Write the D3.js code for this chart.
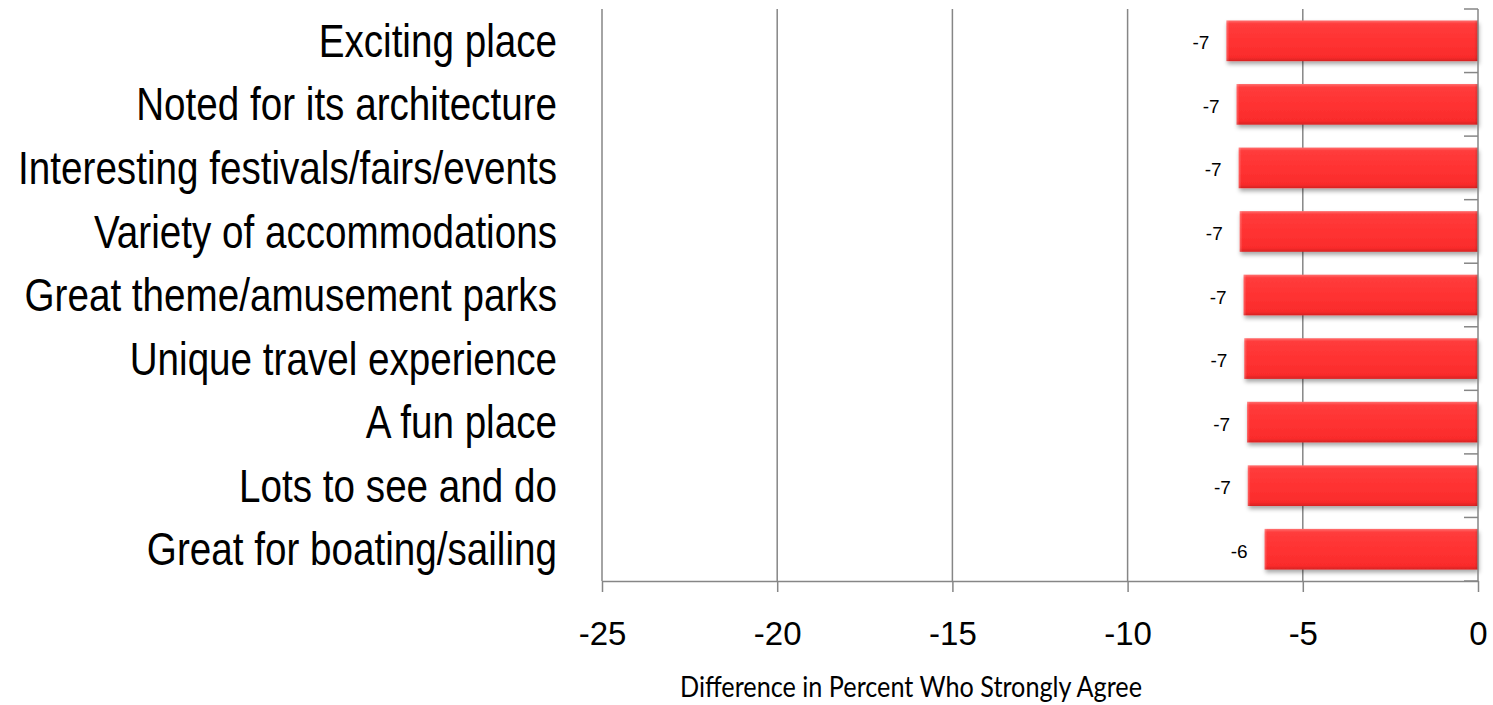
<!DOCTYPE html>
<html>
<head>
<meta charset="utf-8">
<script src="https://cdn.jsdelivr.net/npm/d3@7"></script>
<style>
  body { margin: 0; background: #fff; }
  svg { display: block; }
  .cat { font-family: "Liberation Sans", Arial, sans-serif; font-size: 46px; fill: #000; }
  .tick-lbl { font-family: "Liberation Sans", Arial, sans-serif; font-size: 33px; fill: #000; }
  .val { font-family: "Liberation Sans", Arial, sans-serif; font-size: 19px; fill: #000; }
  .xtitle { font-family: Lato, "Open Sans", sans-serif; font-size: 29px; fill: #000; }
</style>
</head>
<body>
<svg id="chart" width="1493" height="705"></svg>
<script>
// ======== Data ========
const categories = [
    'Exciting place',
    'Noted for its architecture',
    'Interesting festivals/fairs/events',
    'Variety of accommodations',
    'Great theme/amusement parks',
    'Unique travel experience',
    'A fun place',
    'Lots to see and do',
    'Great for boating/sailing'
];
const values = [-7.18, -6.89, -6.83, -6.80, -6.69, -6.67, -6.59, -6.57, -6.09];
const valueLabels = ['-7', '-7', '-7', '-7', '-7', '-7', '-7', '-7', '-6'];
const xTicks = [-25, -20, -15, -10, -5, 0];
const xTitle = 'Difference in Percent Who Strongly Agree';

const svg = d3.select('#chart');
const axisColor = '#868686';

let x = d3.scaleLinear().domain([-25, 0]).range([602, 1478]);
let y = d3.scaleBand().domain(categories).range([9, 581])
    .paddingInner(0.36).paddingOuter(0.18);

// ======== Defs: gradient + shadow ========
const defs = svg.append('defs');
const grad = defs.append('linearGradient')
    .attr('id', 'barGrad').attr('x1', 0).attr('y1', 0).attr('x2', 0).attr('y2', 1);
grad.append('stop').attr('offset', '0').attr('stop-color', '#ff7070');
grad.append('stop').attr('offset', '0.08').attr('stop-color', '#ff3c3c');
grad.append('stop').attr('offset', '0.5').attr('stop-color', '#ff3232');
grad.append('stop').attr('offset', '0.9').attr('stop-color', '#fa2c2c');
grad.append('stop').attr('offset', '1').attr('stop-color', '#d82222');

const edge = defs.append('linearGradient')
    .attr('id', 'edgeGrad').attr('x1', 0).attr('y1', 0).attr('x2', 1).attr('y2', 0);
edge.append('stop').attr('offset', '0').attr('stop-color', '#fff').attr('stop-opacity', 0.25);
edge.append('stop').attr('offset', '0.012').attr('stop-color', '#fff').attr('stop-opacity', 0);
edge.append('stop').attr('offset', '0.985').attr('stop-color', '#000').attr('stop-opacity', 0);
edge.append('stop').attr('offset', '1').attr('stop-color', '#000').attr('stop-opacity', 0.15);

const shadow = defs.append('filter').attr('id', 'shadow')
    .attr('x', '-5%').attr('y', '-20%').attr('width', '110%').attr('height', '160%');
shadow.append('feDropShadow').attr('dx', 1).attr('dy', 3).attr('stdDeviation', 2.2)
    .attr('flood-color', '#000').attr('flood-opacity', 0.35);

// ======== Gridlines ========
svg.append('g').selectAll('line')
    .data(xTicks.filter(d => d !== 0))
    .enter().append('line')
    .attr('x1', d => x(d)).attr('x2', d => x(d))
    .attr('y1', y.range()[0]).attr('y2', y.range()[1])
    .attr('stroke', axisColor).attr('stroke-width', 1.5);

// ======== Bars ========
const bars = svg.append('g').selectAll('g')
    .data(categories)
    .enter().append('g');

bars.append('rect')
    .attr('x', (d, i) => x(values[i]))
    .attr('y', d => y(d))
    .attr('width', (d, i) => x(0) - x(values[i]))
    .attr('height', y.bandwidth())
    .attr('fill', 'url(#barGrad)')
    .attr('filter', 'url(#shadow)');

bars.append('rect')
    .attr('x', (d, i) => x(values[i]))
    .attr('y', d => y(d))
    .attr('width', (d, i) => x(0) - x(values[i]))
    .attr('height', y.bandwidth())
    .attr('fill', 'url(#edgeGrad)');

bars.append('text')
    .attr('class', 'val')
    .attr('x', (d, i) => x(values[i]) - 17)
    .attr('y', d => y(d) + y.bandwidth() / 2)
    .attr('dy', '0.45em')
    .attr('text-anchor', 'end')
    .text((d, i) => valueLabels[i]);

// ======== X axis ========
const xAxis = svg.append('g')
    .attr('transform', 'translate(0,' + y.range()[1] + ')')
    .call(d3.axisBottom(x).tickValues(xTicks).tickSize(11).tickSizeOuter(0).tickPadding(30)
        .tickFormat(d3.format('d')));
xAxis.select('.domain').attr('stroke', axisColor).attr('stroke-width', 1.5);
xAxis.selectAll('.tick line').attr('stroke', axisColor).attr('stroke-width', 1.5);
xAxis.selectAll('.tick text').attr('class', 'tick-lbl').attr('fill', '#000')
    .text(d => String(d));
xAxis.attr('font-family', null).attr('font-size', null);

// ======== Y axis (at zero, on the right) ========
const yAxis = svg.append('g');
yAxis.append('line')
    .attr('x1', x(0)).attr('x2', x(0))
    .attr('y1', y.range()[0]).attr('y2', y.range()[1])
    .attr('stroke', axisColor).attr('stroke-width', 1.5);
yAxis.selectAll('line.cat-tick')
    .data(d3.range(categories.length + 1))
    .enter().append('line')
    .attr('class', 'cat-tick')
    .attr('x1', x(0) - 14).attr('x2', x(0))
    .attr('y1', i => y.range()[0] + i * y.step())
    .attr('y2', i => y.range()[0] + i * y.step())
    .attr('stroke', axisColor).attr('stroke-width', 1.5);

// category labels on the left, squeezed like a narrow face
const narrow = 0.84;
svg.append('g')
    .attr('transform', 'scale(' + narrow + ',1)')
    .selectAll('text')
    .data(categories)
    .enter().append('text')
    .attr('class', 'cat')
    .attr('x', 557 / narrow)
    .attr('y', d => y(d) + y.bandwidth() / 2)
    .attr('dy', '0.35em')
    .attr('text-anchor', 'end')
    .text(d => d);

// ======== X title ========
svg.append('text')
    .attr('class', 'xtitle')
    .attr('x', 680)
    .attr('y', 697)
    .attr('textLength', 462)
    .attr('lengthAdjust', 'spacingAndGlyphs')
    .text(xTitle);
</script>
</body>
</html>
